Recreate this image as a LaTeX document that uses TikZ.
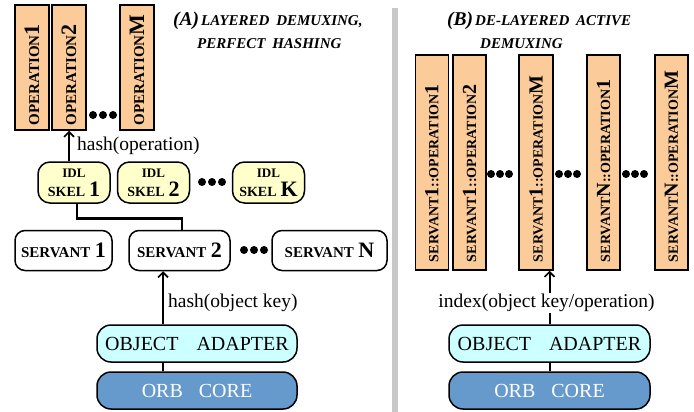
\documentclass[tikz,border=0pt]{standalone}
\usepackage{fontspec}
\setmainfont{Liberation Serif}
\usetikzlibrary{arrows.meta}
\definecolor{peach}{HTML}{FCCB9A}
\definecolor{skelyel}{HTML}{FFFFCC}
\definecolor{oacyan}{HTML}{CCFFFF}
\definecolor{orbblue}{HTML}{6699CC}
\definecolor{divgray}{HTML}{C8C8C8}
\newcommand{\fs}[2]{{\fontsize{#1}{#1}\selectfont #2}}
\begin{document}
\begin{tikzpicture}[x=1pt,y=-1pt,
  opbox/.style={draw, line width=1.5pt, fill=peach, rotate=90, inner ysep=0pt,
    font=\bfseries, align=flush left},
  servbox/.style={draw, line width=1.5pt, fill=white, rounded corners=10pt,
    minimum height=40pt, inner sep=0pt, font=\bfseries},
  skelbox/.style={draw, line width=1.5pt, fill=skelyel, rounded corners=12pt,
    minimum width=72pt, minimum height=41pt, inner sep=0pt, align=center,
    font=\bfseries\fontsize{13}{19}\selectfont},
  oabox/.style={draw, line width=1.5pt, fill=oacyan, rounded corners=14pt,
    minimum width=200pt, minimum height=37pt, inner sep=0pt,
    font=\fontsize{20}{20}\selectfont},
  orbbox/.style={draw, line width=1.5pt, fill=orbblue, rounded corners=14pt,
    minimum width=200pt, minimum height=37pt, inner sep=0pt, text=white,
    font=\fontsize{20}{20}\selectfont},
  arr/.style={line width=2pt, -{Straight Barb[length=5pt,width=10pt,line width=1.6pt]}},
  conn/.style={line width=2pt},
  thickconn/.style={line width=2.6pt},
  lbl/.style={font=\fontsize{19.5}{19.5}\selectfont, inner sep=1pt},
  ttl/.style={font=\bfseries\itshape, anchor=base west, inner sep=0pt},
  dot/.style={fill=black}
]
\useasboundingbox (0,0) rectangle (694,412);
% divider
\fill[divgray] (392,8) rectangle (398,412);

% ===== Panel A =====
\node[ttl] (tA1) at (173,26) {\fs{19.5}{(A)}\hspace{2pt}\fs{15}{LAYERED\hspace{0.45em}DEMUXING,}};
\node[ttl] (tA2) at (197,49) {\fs{15}{PERFECT\hspace{0.45em}HASHING}};

\node[opbox, inner xsep=5pt, text width=115pt, minimum height=34pt] (op1) at (32,67.5) {\fs{15}{OPERATION}\fs{22}{1}};
\node[opbox, inner xsep=5pt, text width=115pt, minimum height=34pt] (op2) at (69,67.5) {\fs{15}{OPERATION}\fs{22}{2}};
\node[opbox, inner xsep=5pt, text width=115pt, minimum height=34pt] (opM) at (137,67.5) {\fs{15}{OPERATION}\fs{22}{M}};
\foreach \x in {93,103,113} \fill[dot] (\x,115) circle[radius=4pt];

\node[skelbox] (sk1) at (74,182.5) {\fs{13}{IDL}\\\fs{14}{SKEL}\hspace{0.3em}\fs{22}{1}};
\node[skelbox] (sk2) at (153.5,182.5) {\fs{13}{IDL}\\\fs{14}{SKEL}\hspace{0.3em}\fs{22}{2}};
\node[skelbox] (skK) at (268.5,182.5) {\fs{13}{IDL}\\\fs{14}{SKEL}\hspace{0.3em}\fs{22}{K}};
\foreach \x in {202,212,222} \fill[dot] (\x,182) circle[radius=4pt];

\node[servbox, minimum width=97pt] (sv1) at (63.5,250.5) {\fs{15}{SERVANT}\hspace{0.45em}\fs{22}{1}};
\node[servbox, minimum width=101pt] (sv2) at (179.5,250.5) {\fs{15}{SERVANT}\hspace{0.45em}\fs{22}{2}};
\node[servbox, minimum width=115pt] (svN) at (329.5,250.5) {\fs{15}{SERVANT}\hspace{0.45em}\fs{22}{N}};
\foreach \x in {244,254,264} \fill[dot] (\x,250) circle[radius=4pt];

\node[oabox] (oa1) at (197,343.5) {OBJECT\hspace{0.9em}ADAPTER};
\node[orbbox] (orb1) at (197,390.5) {ORB\hspace{0.8em}CORE};

\coordinate (ka) at (163,0);
\draw[arr] (op2.west |- sk1.north) -- (op2.west);
\node[lbl, anchor=west] (lh1) at (76,146) {hash(operation)};
\draw[thickconn] ([xshift=3pt]sk1.south) -- ++(0,15) -| ([xshift=2.5pt]sv2.north);
\draw[arr] (oa1.north -| ka) -- (sv2.south -| ka);
\node[lbl, anchor=west] (lh2) at (167,303) {hash(object key)};
\draw[conn] (orb1.north -| ka) -- (oa1.south -| ka);

% ===== Panel B =====
\node[ttl] (tB1) at (447,26) {\fs{19.5}{(B)}\hspace{2pt}\fs{15}{DE-LAYERED\hspace{0.45em}ACTIVE}};
\node[ttl] (tB2) at (480,49) {\fs{15}{DEMUXING}};

\node[opbox, inner xsep=8pt, text width=199pt, minimum height=33pt] (b1) at (432,162.5) {\fs{14}{SERVANT}\fs{20}{1}\fs{14}{::OPERATION}\fs{20}{1}};
\node[opbox, inner xsep=8pt, text width=199pt, minimum height=33pt] (b2) at (469.5,162.5) {\fs{14}{SERVANT}\fs{20}{1}\fs{14}{::OPERATION}\fs{20}{2}};
\node[opbox, inner xsep=8pt, text width=199pt, minimum height=34pt] (b3) at (536,162.5) {\fs{14}{SERVANT}\fs{20}{1}\fs{14}{::OPERATION}\fs{20}{M}};
\node[opbox, inner xsep=8pt, text width=199pt, minimum height=33pt] (b4) at (603.5,162.5) {\fs{14}{SERVANT}\fs{20}{N}\fs{14}{::OPERATION}\fs{20}{1}};
\node[opbox, inner xsep=8pt, text width=199pt, minimum height=33pt] (b5) at (671.5,162.5) {\fs{14}{SERVANT}\fs{20}{N}\fs{14}{::OPERATION}\fs{20}{M}};
\foreach \x in {491,500,509,559,568,577,626,635,644} \fill[dot] (\x,174) circle[radius=4pt];

\node[oabox, minimum width=201pt] (oa2) at (549.5,343.5) {OBJECT\hspace{0.9em}ADAPTER};
\node[orbbox, minimum width=201pt] (orb2) at (549.5,390.5) {ORB\hspace{0.8em}CORE};

\draw[arr] (oa2.north) -- (oa2.north |- b3.west);
\node[lbl, fill=white] (lh3) at (546.5,303) {index(object key/operation)};
\draw[conn] (orb2.north) -- (oa2.south);
\end{tikzpicture}
\end{document}
